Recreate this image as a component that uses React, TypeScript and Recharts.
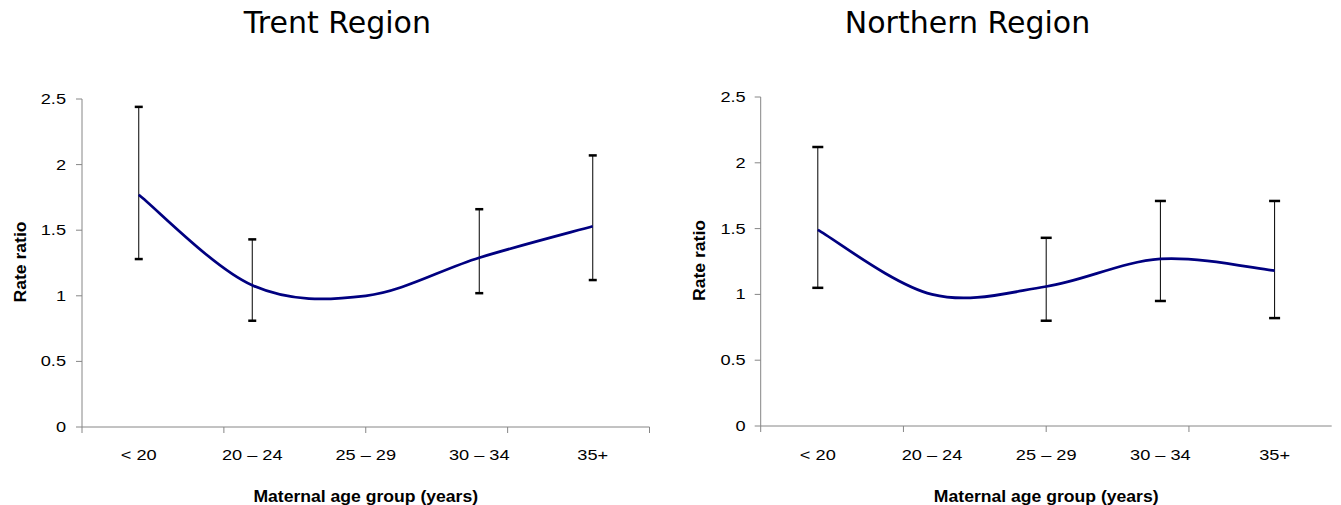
import { ComposedChart, Line, XAxis, YAxis, ErrorBar, Scatter, Label } from 'recharts'

const ageGroups = ['< 20', '20 – 24', '25 – 29', '30 – 34', '35+']
const yTicks = [0, 0.5, 1, 1.5, 2, 2.5]
const boundaryTicks = [0, 1, 2, 3, 4, 5]

// Trent: 25-29 is the reference group (no CI)
const trentRatio = [1.77, 1.08, 1.0, 1.29, 1.53]
const trentLow = [1.28, 0.81, null, 1.02, 1.12]
const trentHigh = [2.44, 1.43, null, 1.66, 2.07]

// Northern: 20-24 is the reference group
const northernRatio = [1.49, 1.0, 1.06, 1.27, 1.18]
const northernLow = [1.05, null, 0.8, 0.95, 0.82]
const northernHigh = [2.12, null, 1.43, 1.71, 1.71]

const AXIS = '#868686'
const FONT = "'Liberation Sans', Arial, sans-serif"

function buildRows(ratio: number[], low: (number | null)[], high: (number | null)[]) {
  return ageGroups.map((age, i) => {
    const lo = low[i]
    const hi = high[i]
    return {
      age,
      ratio: ratio[i],
      low: lo,
      high: hi,
      err: lo == null || hi == null ? undefined : [ratio[i] - lo, hi - ratio[i]],
    }
  })
}

// Excel-like smoothed line (uniform Catmull-Rom through the points)
const smooth = (context: any) => {
  let pts: [number, number][] = []
  return {
    areaStart() {},
    areaEnd() {},
    lineStart() {
      pts = []
    },
    point(x: number, y: number) {
      pts.push([+x, +y])
    },
    lineEnd() {
      if (!pts.length) return
      context.moveTo(pts[0][0], pts[0][1])
      for (let i = 0; i < pts.length - 1; i++) {
        const p0 = pts[Math.max(i - 1, 0)]
        const p1 = pts[i]
        const p2 = pts[i + 1]
        const p3 = pts[Math.min(i + 2, pts.length - 1)]
        context.bezierCurveTo(
          p1[0] + (p2[0] - p0[0]) / 6, p1[1] + (p2[1] - p0[1]) / 6,
          p2[0] - (p3[0] - p1[0]) / 6, p2[1] - (p3[1] - p1[1]) / 6,
          p2[0], p2[1]
        )
      }
    },
  }
}

function XTick({ x, y, payload }: any) {
  return (
    <g transform={`translate(${x},${y})`}>
      <text transform="scale(1.3,1)" textAnchor="middle" dy="0.71em" fontSize={14} fontFamily={FONT} fill="#000">
        {payload.value}
      </text>
    </g>
  )
}

function YTick({ x, y, payload }: any) {
  return (
    <g transform={`translate(${x},${y})`}>
      <text transform="scale(1.3,1)" textAnchor="end" dy="0.355em" fontSize={14} fontFamily={FONT} fill="#000">
        {payload.value}
      </text>
    </g>
  )
}

interface PanelProps {
  rows: ReturnType<typeof buildRows>
  width: number
  top: number
  right: number
  yAxisWidth: number
  yTickMargin: number
  labelAxisHeight: number
  labelTickMargin: number
  capWidth: number
}

const HEIGHT = 505

function Panel(p: PanelProps) {
  const plotLeft = p.yAxisWidth
  const plotRight = p.width - p.right
  const plotBottom = HEIGHT - 1 - p.labelAxisHeight
  const cap = (key: 'low' | 'high') => (props: any) => {
    if (props.payload?.[key] == null || props.cy == null) return <g />
    return <rect x={props.cx - p.capWidth / 2} y={props.cy - 1.25} width={p.capWidth} height={2.5} fill="#000" />
  }

  return (
    <ComposedChart width={p.width} height={HEIGHT} data={p.rows}
      margin={{ top: p.top, right: p.right, left: 0, bottom: 0 }}>
      <XAxis xAxisId="bounds" type="number" domain={[0, 5]} ticks={boundaryTicks} tick={() => <g />}
        height={1} tickSize={6} stroke={AXIS} allowDataOverflow />
      <XAxis xAxisId="labels" dataKey="age" scale="band" height={p.labelAxisHeight} axisLine={false} tickLine={false}
        tickSize={0} tickMargin={p.labelTickMargin} tick={<XTick />} interval={0}>
        <Label content={() => (
          <text transform={`translate(${(plotLeft + plotRight) / 2},501.7) scale(1.1,1)`} textAnchor="middle"
            fontSize={16} fontWeight="bold" fontFamily={FONT} fill="#000">
            Maternal age group (years)
          </text>
        )} />
      </XAxis>
      <YAxis domain={[0, 2.5]} ticks={yTicks} width={p.yAxisWidth} stroke={AXIS} tickSize={6}
        tickMargin={p.yTickMargin} tick={<YTick />} interval={0}>
        <Label content={() => (
          <text transform={`translate(${plotLeft - 56},${(p.top + plotBottom) / 2 - 1}) rotate(-90) scale(1.1,1)`}
            textAnchor="middle" fontSize={16} fontWeight="bold" fontFamily={FONT} fill="#000">
            Rate ratio
          </text>
        )} />
      </YAxis>
      <Line xAxisId="labels" dataKey="ratio" type={smooth as any} stroke="#000080" strokeWidth={2.75}
        dot={false} activeDot={false} isAnimationActive={false}>
        <ErrorBar dataKey="err" direction="y" width={0} stroke="#000" strokeWidth={1} />
      </Line>
      <Scatter xAxisId="labels" dataKey="low" shape={cap('low')} isAnimationActive={false} />
      <Scatter xAxisId="labels" dataKey="high" shape={cap('high')} isAnimationActive={false} />
    </ComposedChart>
  )
}

export default function App() {
  const trent = buildRows(trentRatio, trentLow, trentHigh)
  const northern = buildRows(northernRatio, northernLow, northernHigh)

  return (
    <div style={{ position: 'absolute', left: 0, top: 0, width: 1341, height: HEIGHT, background: '#fff' }}>
      <div style={{ position: 'absolute', left: 0, top: 0 }}>
        <Panel rows={trent} width={670} top={99} right={20.5} yAxisWidth={82} yTickMargin={10}
          labelAxisHeight={77} labelTickMargin={22} capWidth={8} />
      </div>
      <div style={{ position: 'absolute', left: 670, top: 0 }}>
        <Panel rows={northern} width={671} top={97} right={9.3} yAxisWidth={90.7} yTickMargin={9}
          labelAxisHeight={78} labelTickMargin={23} capWidth={11} />
      </div>
      <svg width={1341} height={60} style={{ position: 'absolute', left: 0, top: 0, pointerEvents: 'none' }}>
        <text x={337.4} y={33.3} textAnchor="middle" fontSize={30} fontFamily="'DejaVu Sans', Verdana, sans-serif" fill="#000">
          Trent Region
        </text>
        <text x={967.5} y={33.3} textAnchor="middle" fontSize={30} fontFamily="'DejaVu Sans', Verdana, sans-serif" fill="#000">
          Northern Region
        </text>
      </svg>
    </div>
  )
}
